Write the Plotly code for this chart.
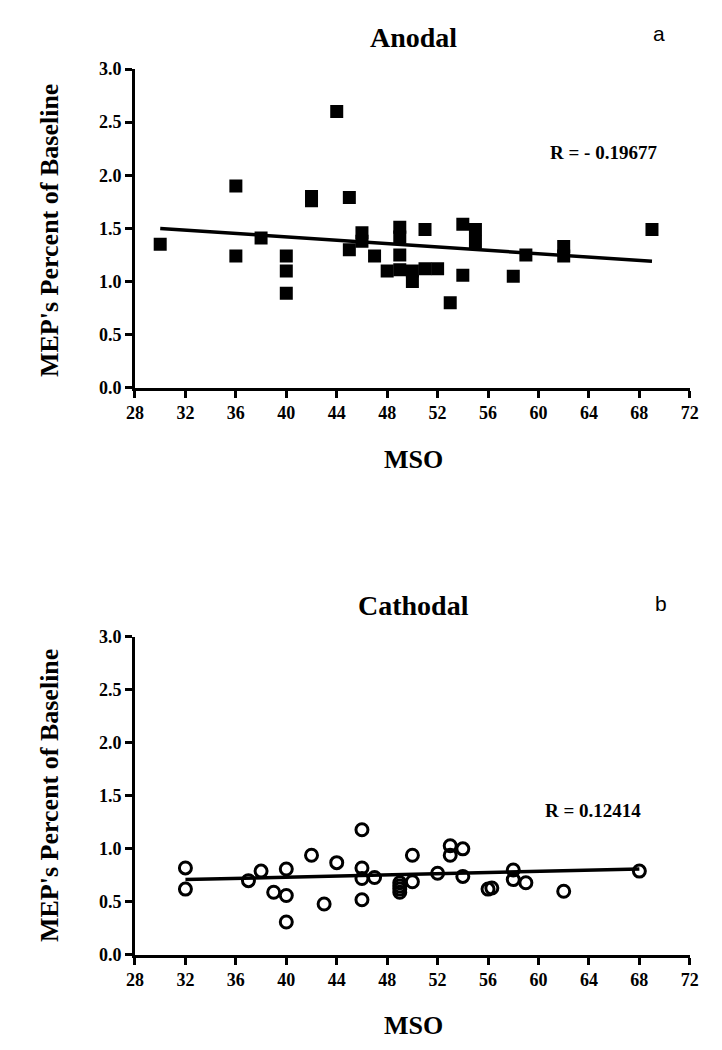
import plotly.graph_objects as go

# ---- Data ----
anodal_mso = [30, 36, 36, 38, 40, 40, 40, 42, 42, 44, 45, 45, 46, 46, 47, 48,
              49, 49, 49, 49, 50, 50, 51, 51, 52, 53, 54, 54, 55, 55, 58, 59,
              62, 62, 69]
anodal_mep = [1.35, 1.90, 1.24, 1.41, 1.24, 1.10, 0.89, 1.80, 1.76, 2.60, 1.79, 1.30,
              1.46, 1.38, 1.24, 1.10, 1.51, 1.42, 1.25, 1.11, 1.10, 1.00, 1.49, 1.12,
              1.12, 0.80, 1.54, 1.06, 1.49, 1.37, 1.05, 1.25, 1.33, 1.24, 1.49]
anodal_fit_x = [30, 69]
anodal_fit_y = [1.50, 1.19]
anodal_r = "R = - 0.19677"

cathodal_mso = [32, 32, 37, 38, 39, 40, 40, 40, 42, 43, 44, 46, 46, 46, 46, 47,
                49, 49, 49, 49, 50, 50, 52, 53, 53, 54, 54, 56, 56.3, 58, 58, 59,
                62, 68]
cathodal_mep = [0.82, 0.62, 0.70, 0.79, 0.59, 0.81, 0.56, 0.31, 0.94, 0.48, 0.87, 1.18,
                0.82, 0.72, 0.52, 0.73, 0.68, 0.65, 0.62, 0.59, 0.94, 0.69, 0.77, 1.03,
                0.94, 1.00, 0.74, 0.62, 0.63, 0.80, 0.71, 0.68, 0.60, 0.79]
cathodal_fit_x = [32, 68]
cathodal_fit_y = [0.71, 0.81]
cathodal_r = "R = 0.12414"

x_ticks = [28, 32, 36, 40, 44, 48, 52, 56, 60, 64, 68, 72]
y_ticks = [0.0, 0.5, 1.0, 1.5, 2.0, 2.5, 3.0]

W, H = 722, 1050
SERIF = "Liberation Serif"

def px(x):
    return x / W

def py(y):
    return 1 - y / H

fig = go.Figure()

fig.add_trace(go.Scatter(x=anodal_mso, y=anodal_mep, mode="markers",
                         marker=dict(symbol="square", size=13, color="black"),
                         xaxis="x", yaxis="y", showlegend=False))
fig.add_trace(go.Scatter(x=anodal_fit_x, y=anodal_fit_y, mode="lines",
                         line=dict(color="black", width=3.5),
                         xaxis="x", yaxis="y", showlegend=False))
fig.add_trace(go.Scatter(x=cathodal_mso, y=cathodal_mep, mode="markers",
                         marker=dict(symbol="circle-open", size=12, color="black",
                                     line=dict(width=3, color="black")),
                         xaxis="x2", yaxis="y2", showlegend=False))
fig.add_trace(go.Scatter(x=cathodal_fit_x, y=cathodal_fit_y, mode="lines",
                         line=dict(color="black", width=3.5),
                         xaxis="x2", yaxis="y2", showlegend=False))

xdom = [px(121), px(690)]
ydom_top = [py(377), py(52)]
ydom_bot = [py(955), py(631)]

tickfont = dict(family=SERIF, size=18, color="black", weight="bold")

def xaxis(anchor, domain):
    return dict(domain=domain, anchor=anchor, range=[28, 72], tickvals=x_ticks,
                ticktext=[str(v) for v in x_ticks], showline=True, linecolor="black",
                linewidth=3, ticks="outside", ticklen=7, tickwidth=3, tickcolor="black",
                showgrid=False, zeroline=False, tickfont=tickfont)

def yaxis(anchor, domain):
    return dict(domain=domain, anchor=anchor, range=[0, 3], tickvals=y_ticks,
                tickformat=".1f", showline=True, linecolor="black", linewidth=3,
                ticks="outside", ticklen=7, tickwidth=3, tickcolor="black",
                showgrid=False, zeroline=False, tickfont=tickfont)

annotations = []
def ann(text, x, y, size, family=SERIF, bold=True, angle=0):
    annotations.append(dict(text=f"<b>{text}</b>" if bold else text,
                            x=px(x), y=py(y), xref="paper", yref="paper",
                            showarrow=False, textangle=angle,
                            xanchor="center", yanchor="middle",
                            font=dict(family=family, size=size, color="black")))

ann("Anodal", 407, 20, 28)
ann("a", 658, 16, 21, family="Liberation Sans", bold=False)
ann("MEP's Percent of Baseline", 34, 217, 26, angle=-90)
ann("MSO", 407, 450, 26)
ann(anodal_r, 602, 137, 19)

ann("Cathodal", 407, 599, 28)
ann("b", 660, 597, 21, family="Liberation Sans", bold=False)
ann("MEP's Percent of Baseline", 34, 793, 26, angle=-90)
ann("MSO", 407, 1027, 26)
ann(cathodal_r, 591, 808, 19)

fig.update_layout(
    width=W, height=H, margin=dict(l=0, r=0, t=0, b=0),
    paper_bgcolor="white", plot_bgcolor="white",
    xaxis=xaxis("y", xdom), yaxis=yaxis("x", ydom_top),
    xaxis2=xaxis("y2", xdom), yaxis2=yaxis("x2", ydom_bot),
    annotations=annotations,
)

fig.write_html("out.html")
